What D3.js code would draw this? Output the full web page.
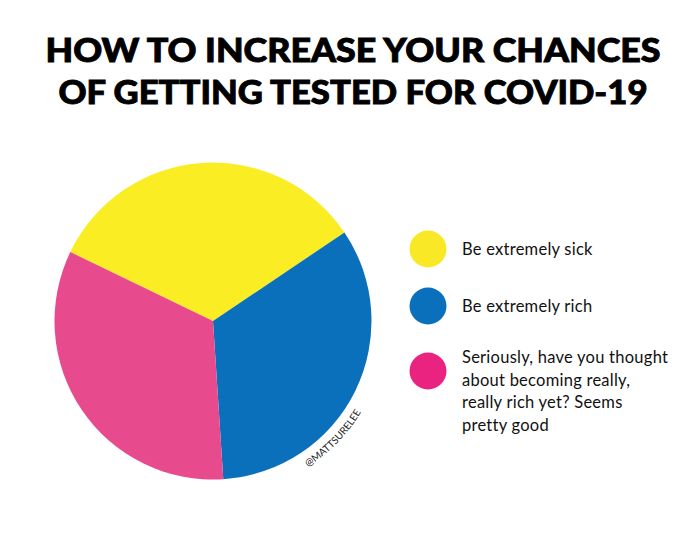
<!DOCTYPE html>
<html>
<head>
<meta charset="utf-8">
<script src="https://cdn.jsdelivr.net/npm/d3@7"></script>
<style>
html, body { margin: 0; padding: 0; background: #fff; }
svg { display: block; }
</style>
</head>
<body>
<svg id="chart" width="700" height="560"></svg>
<script>
const titleLines = ["HOW TO INCREASE YOUR CHANCES", "OF GETTING TESTED FOR COVID-19"];
const categories = ["Be extremely sick", "Be extremely rich", "Seriously"];
const values = [33.4, 33.4, 33.2];
const sliceColors = ["#faed23", "#0b70bb", "#e84a8e"];
const legendColors = ["#f9e825", "#0b70bb", "#ea2280"];
const legendLabels = [
    ["Be extremely sick"],
    ["Be extremely rich"],
    ["Seriously, have you thought", "about becoming really,", "really rich yet? Seems", "pretty good"]
];
const credit = "@MATTSURELEE";

const svg = d3.select("#chart");
const cx = 213, cy = 321;

// title, stretched to the width of the lettering in the picture
svg.selectAll("text.title")
    .data(titleLines)
    .enter().append("text")
    .attr("class", "title")
    .attr("x", 353)
    .attr("y", (d, i) => 62 + i * 42)
    .attr("text-anchor", "middle")
    .attr("font-family", "Lato, sans-serif")
    .attr("font-weight", 900)
    .attr("font-size", 33)
    .attr("fill", "#000")
    .attr("stroke", "#000")
    .attr("stroke-width", 0.9)
    .attr("textLength", (d, i) => i == 0 ? 615 : 589)
    .attr("lengthAdjust", "spacingAndGlyphs")
    .text(d => d);

// pie
const pie = d3.pie()
    .sort(null)
    .value(d => d)
    .startAngle(-64.2 * Math.PI / 180)
    .endAngle(295.8 * Math.PI / 180);
const arc = d3.arc().innerRadius(0).outerRadius(158.5);

svg.append("g")
    .attr("transform", "translate(" + cx + "," + cy + ")")
    .selectAll("path")
    .data(pie(values))
    .enter().append("path")
    .attr("d", arc)
    .attr("fill", (d, i) => sliceColors[i]);

// legend
const legendYs = [249, 306, 371];
const legend = svg.selectAll("g.legend")
    .data(categories)
    .enter().append("g")
    .attr("class", "legend")
    .attr("transform", (d, i) => "translate(0," + legendYs[i] + ")");

legend.append("circle")
    .attr("cx", 428)
    .attr("cy", 0)
    .attr("r", 18.5)
    .attr("fill", (d, i) => legendColors[i]);

legend.each(function(d, i) {
    const lines = legendLabels[i];
    d3.select(this).selectAll("text")
        .data(lines)
        .enter().append("text")
        .attr("x", 462)
        .attr("y", (l, j) => (lines.length > 1 ? -8 : 5.5) + j * 22.7)
        .attr("font-family", "Lato, sans-serif")
        .attr("font-size", 16.5)
        .attr("letter-spacing", 0.25)
        .attr("fill", "#111")
        .text(l => l);
});

// credit curves round the edge of the pie
const creditPath = d3.path();
creditPath.arc(cx, cy, 174, 57 * Math.PI / 180, 30 * Math.PI / 180, true);
svg.append("defs").append("path")
    .attr("id", "creditArc")
    .attr("d", creditPath.toString());
svg.append("text")
    .attr("font-family", "Lato, sans-serif")
    .attr("font-size", 10)
    .attr("fill", "#222")
    .append("textPath")
    .attr("href", "#creditArc")
    .text(credit);
</script>
</body>
</html>
